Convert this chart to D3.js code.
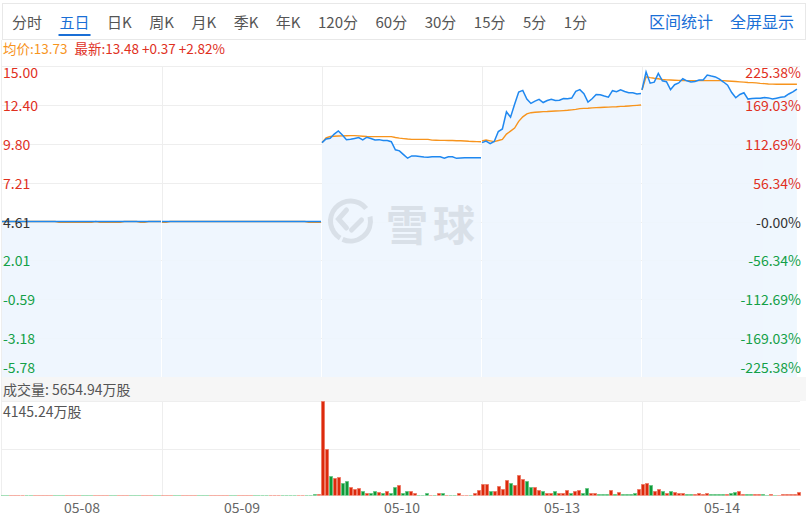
<!DOCTYPE html>
<html>
<head>
<meta charset="utf-8">
<script src="https://cdn.jsdelivr.net/npm/d3@7"></script>
<style>
  html, body { margin: 0; padding: 0; background: #fff; }
  svg { display: block; font-family: "Noto Sans CJK SC", "Noto Sans", sans-serif; }
</style>
</head>
<body>
<svg id="chart" width="808" height="523"></svg>
<script>
// ---------------- DATA ----------------
const tabs = ['分时','五日','日K','周K','月K','季K','年K','120分','60分','30分','15分','5分','1分'];
const tools = ['区间统计','全屏显示'];
const activeTab = '五日';
const days = ['05-08','05-09','05-10','05-13','05-14'];
const prevClose = 4.61;
const priceTicks = [15.00, 12.40, 9.80, 7.21, 4.61, 2.01, -0.59, -3.18, -5.78];
const pctTicks = ['225.38%','169.03%','112.69%','56.34%','-0.00%','-56.34%','-112.69%','-169.03%','-225.38%'];
const avgText = '均价:13.73';
const lastText = '最新:13.48 +0.37 +2.82%';
const volTotalText = '成交量: 5654.94万股';
const volMax = 4145.24;
const volMaxText = '4145.24万股';

// price per day (blue line)
const price0508 = [4.61,4.61,4.61,4.61,4.61,4.61,4.61,4.61,4.61,4.61,4.61,4.61,4.61,4.61,4.61,4.61,4.61,4.61,4.61,4.61,
                   4.61,4.61,4.61,4.61,4.61,4.61,4.61,4.61,4.61,4.61,4.61,4.61,4.61,4.61,4.61,4.61,4.61,4.61,4.61,4.61];
const price0509 = [4.61,4.61,4.61,4.61,4.61,4.61,4.61,4.61,4.61,4.61,4.61,4.61,4.61,4.61,4.61,4.61,4.61,4.61,4.61,4.61,
                   4.61,4.61,4.61,4.61,4.61,4.61,4.61,4.61,4.61,4.61,4.61,4.61,4.61,4.61,4.61,4.61,4.61,4.61,4.61,4.61];
const price0510 = [9.88,10.13,10.17,10.45,10.66,10.39,10.07,10.10,10.16,10.22,10.06,10.24,10.16,10.06,10.08,10.02,10.02,9.94,9.40,9.33,
                   9.08,8.84,8.99,8.99,8.96,8.92,8.90,8.93,8.94,8.93,8.84,8.94,8.94,8.83,8.86,8.87,8.87,8.87,8.87,8.87];
const price0513 = [9.88,9.98,9.81,9.96,10.62,10.79,11.94,11.58,12.45,13.26,13.37,12.79,12.50,12.65,12.77,12.56,12.69,12.77,12.69,12.71,
                   12.83,12.81,12.86,13.31,13.42,13.15,12.59,12.81,13.10,13.08,12.99,12.92,13.35,13.28,13.41,13.30,13.22,13.21,13.13,13.17];
const price0514 = [13.40,14.60,13.85,13.92,14.51,14.01,13.95,13.42,13.75,13.87,14.15,14.01,13.93,13.96,14.06,14.06,14.40,14.33,14.27,14.12,
                   13.93,13.72,13.23,12.88,13.10,13.21,12.79,12.83,12.84,12.84,12.89,12.87,12.79,12.85,12.91,12.95,13.13,13.27,13.46];

// average price per day (orange line)
const avg0508 = [4.61,4.61,4.61,4.61,4.61,4.61,4.61,4.61,4.61,4.61,4.61,4.61,4.61,4.61,4.56,4.56,4.56,4.56,4.56,4.56,
                 4.56,4.56,4.56,4.61,4.56,4.56,4.56,4.56,4.56,4.56,4.61,4.61,4.61,4.61,4.56,4.56,4.61,4.61,4.61,4.61];
const avg0509 = [4.56,4.56,4.61,4.61,4.61,4.61,4.61,4.61,4.61,4.61,4.61,4.61,4.61,4.61,4.61,4.61,4.61,4.61,4.61,4.61,
                 4.61,4.61,4.61,4.61,4.61,4.61,4.61,4.61,4.61,4.61,4.61,4.61,4.61,4.61,4.61,4.61,4.56,4.56,4.56,4.56];
const avg0510 = [9.88,10.20,10.29,10.31,10.32,10.33,10.34,10.35,10.35,10.33,10.31,10.29,10.28,10.28,10.28,10.28,10.28,10.28,10.22,10.18,
                 10.15,10.12,10.10,10.10,10.10,10.10,10.10,10.05,10.04,10.03,10.03,10.02,10.02,10.01,10.01,9.99,9.97,9.96,9.95,9.94];
const avg0513 = [9.99,10.05,10.00,9.95,10.02,10.10,10.45,10.65,10.85,11.30,11.60,11.80,11.88,11.91,11.93,11.95,11.96,11.98,11.99,12.00,
                 12.02,12.04,12.07,12.10,12.15,12.17,12.18,12.20,12.22,12.23,12.24,12.25,12.27,12.28,12.30,12.31,12.33,12.35,12.37,12.39];
const avg0514 = [13.40,14.28,14.22,14.18,14.15,14.10,14.07,14.06,14.05,14.04,14.03,14.02,14.02,14.02,14.02,14.02,14.02,14.02,14.02,14.02,
                 14.02,14.00,13.98,13.96,13.94,13.92,13.90,13.89,13.87,13.84,13.82,13.80,13.79,13.78,13.78,13.78,13.78,13.78,13.78];

// volume per bar (万股) and direction (r = up, g = down)
const vol0508 = [30,30,30,30,30,30,30,30,30,30,30,30,30,30,30,30,30,30,30,30,30,30,30,30,30,30,30,30,30,30,30,30,30,30,30,30,30,30,30,30];
const dir0508 = ['g','g','r','r','r','r','g','g','r','r','r','r','r','g','g','g','r','r','r','r','g','g','g','r','r','r','r','g','g','r','r','r','g','g','g','r','r','r','g','g'];
const vol0509 = [30,30,30,30,30,30,30,30,30,30,30,30,30,30,30,30,30,30,30,30,30,30,30,30,30,30,30,30,30,30,30,30,30,30,30,30,30,30,87,87];
const dir0509 = ['r','r','r','g','g','r','r','r','r','g','g','g','r','r','r','r','r','g','g','r','r','r','r','g','g','g','g','r','r','r','g','g','g','g','r','r','g','g','g','r'];
const vol0510 = [4145.24,2038,860,772,816,554,641,406,292,336,231,144,144,231,188,144,231,144,380,467,
                 118,231,231,118,57,57,144,57,57,118,118,57,57,57,144,57,57,57,118,275];
const dir0510 = ['r','r','g','r','r','g','g','r','r','r','g','r','g','g','r','g','r','g','g','r',
                 'g','g','r','r','g','g','g','r','g','r','g','r','g','g','r','r','r','g','r','r'];
const vol0513 = [510,510,205,205,423,292,685,554,467,903,729,641,380,380,249,205,144,144,205,118,
                 118,249,144,205,249,144,336,144,144,100,100,100,249,100,161,100,74,100,144,292];
const dir0513 = ['r','r','g','r','r','r','r','g','r','r','r','g','g','r','r','g','r','r','g','r',
                 'r','r','g','r','r','g','g','r','r','g','g','g','r','g','r','g','g','g','g','r'];
const vol0514 = [510,554,467,205,292,205,118,205,161,118,118,74,74,74,118,74,118,74,74,74,
                 74,74,118,161,205,74,74,74,74,74,74,30,74,30,30,74,74,74,74,161];
const dir0514 = ['r','r','g','r','r','g','r','g','r','r','r','g','g','r','r','r','r','g','g','g',
                 'g','r','g','g','r','r','g','g','r','r','g','g','r','g','r','r','r','r','r','r'];

const priceByDay = [price0508, price0509, price0510, price0513, price0514];
const avgByDay = [avg0508, avg0509, avg0510, avg0513, avg0514];
const volByDay = [vol0508, vol0509, vol0510, vol0513, vol0514];
const dirByDay = [dir0508, dir0509, dir0510, dir0513, dir0514];

// ---------------- STYLE / LAYOUT ----------------
const C = {
  red: '#e0301e', green: '#13a047', gray: '#333', tab: '#555', blue: '#1a6fd6',
  line: '#1f88f0', avg: '#f7941d', fill: '#eef6fe', grid: '#eeeeee',
  barRed: '#dd2a0c', barRedEdge: '#f08877', barGreen: '#0e9a3a', barGreenEdge: '#78cf93'
};
const W = 808, H = 523;
const plot = { left: 2, right: 802, top: 66, bottom: 377 };
const vol = { top: 401, bottom: 496 };

const svg = d3.select('#chart');
svg.append('rect').attr('width', W).attr('height', H).attr('fill', '#fff');

// ---- toolbar ----
svg.append('rect').attr('x', 2.5).attr('y', 3.5).attr('width', 803).attr('height', 36)
  .attr('fill', '#fff').attr('stroke', '#e8e8e8');
let tx = 12;
tabs.forEach(t => {
  const el = svg.append('text').attr('x', tx).attr('y', 21).attr('dominant-baseline', 'central')
    .attr('font-size', 15).attr('fill', t === activeTab ? C.blue : C.tab).text(t);
  const w = el.node().getComputedTextLength();
  if (t === activeTab) {
    svg.append('rect').attr('x', tx - 1).attr('y', 34).attr('width', w + 2).attr('height', 2).attr('fill', C.blue);
  }
  tx += w + 17.5;
});
let rx = 794;
tools.slice().reverse().forEach(t => {
  const el = svg.append('text').attr('x', rx).attr('y', 21).attr('dominant-baseline', 'central')
    .attr('text-anchor', 'end').attr('font-size', 16).attr('fill', C.blue).text(t);
  rx -= el.node().getComputedTextLength() + 17;
});

// ---- info line ----
const info = svg.append('text').attr('x', 3).attr('y', 48).attr('dominant-baseline', 'central').attr('font-size', 13.5);
info.append('tspan').attr('fill', C.avg).text(avgText);
info.append('tspan').attr('dx', 7).attr('fill', C.red).text(lastText);

// ---- scales ----
const y = d3.scaleLinear().domain([priceTicks[priceTicks.length - 1], priceTicks[0]]).range([plot.bottom, plot.top]);
const xDay = d3.scaleBand().domain(days).range([plot.left, plot.right]);
const xIn = d3.scaleLinear().domain([0, 39]).range([0, 159]);
const xBar = d3.scaleLinear().domain([0, 40]).range([0, 160]);
const yV = d3.scaleLinear().domain([0, volMax]).range([vol.bottom, vol.top]);

// ---- grid (price) ----
const grid = svg.append('g');
priceTicks.forEach(t => {
  const yy = Math.round(y(t)) + 0.5;
  grid.append('line').attr('x1', plot.left).attr('x2', 800).attr('y1', yy).attr('y2', yy).attr('stroke', C.grid);
});
days.slice(1).forEach(d => {
  const xx = Math.round(xDay(d)) + 0.5;
  grid.append('line').attr('x1', xx).attr('x2', xx).attr('y1', plot.top).attr('y2', plot.bottom).attr('stroke', C.grid);
});
svg.append('line').attr('x1', 1.5).attr('x2', 1.5).attr('y1', 40).attr('y2', vol.bottom).attr('stroke', '#eeeeee');

// ---- area fill ----
const areaG = svg.append('g').attr('opacity', 0.93);
days.forEach((d, i) => {
  const data = priceByDay[i];
  const area = d3.area().x((v, j) => xDay(d) + xIn(j)).y0(plot.bottom).y1(v => y(v));
  areaG.append('path').attr('d', area(data)).attr('fill', C.fill);
});

// ---- watermark ----
const wmCol = '#d9e0e8';
const wm = svg.append('g').attr('fill', 'none').attr('stroke', wmCol).attr('stroke-width', 5).attr('stroke-linecap', 'round');
const cx = 350.5, cy = 221, r = 20;
wm.append('path').attr('transform', `translate(${cx},${cy})`)
  .attr('d', d3.arc()({ innerRadius: r - 2.5, outerRadius: r + 2.5, startAngle: -2.6, endAngle: 0.9 }))
  .attr('fill', wmCol).attr('stroke', 'none');
wm.append('path').attr('transform', `translate(${cx},${cy})`)
  .attr('d', d3.arc()({ innerRadius: r - 2.5, outerRadius: r + 2.5, startAngle: 1.35, endAngle: 3.55 }))
  .attr('fill', wmCol).attr('stroke', 'none');
wm.append('path').attr('d', `M${cx - 4},${cy - 11} L${cx - 12},${cy - 2} L${cx - 4},${cy + 7}`);
wm.append('path').attr('d', `M${cx + 1},${cy + 9} L${cx + 11},${cy - 1}`);
svg.append('text').attr('x', 386).attr('y', 222).attr('dominant-baseline', 'central')
  .attr('font-size', 42).attr('font-weight', 700).attr('letter-spacing', 5).attr('fill', wmCol).text('雪球');

// ---- lines ----
days.forEach((d, i) => {
  const line = d3.line().x((v, j) => xDay(d) + xIn(j)).y(v => y(v));
  svg.append('path').attr('d', line(avgByDay[i])).attr('fill', 'none').attr('stroke', C.avg).attr('stroke-width', 1.4);
});
days.forEach((d, i) => {
  const line = d3.line().x((v, j) => xDay(d) + xIn(j)).y(v => y(v));
  svg.append('path').attr('d', line(priceByDay[i])).attr('fill', 'none').attr('stroke', C.line).attr('stroke-width', 1.5);
});

// ---- price labels ----
priceTicks.forEach((t, i) => {
  let yy = y(t);
  if (i === 0) yy += 6; else if (i === priceTicks.length - 1) yy -= 10;
  const col = t > prevClose + 1e-9 ? C.red : (t < prevClose - 1e-9 ? C.green : C.gray);
  svg.append('text').attr('x', 3).attr('y', yy).attr('dominant-baseline', 'central').attr('font-size', 14)
    .attr('fill', col).text(t.toFixed(2));
  svg.append('text').attr('x', 801).attr('y', yy).attr('dominant-baseline', 'central').attr('text-anchor', 'end')
    .attr('font-size', 14).attr('fill', col).text(pctTicks[i]);
});

// ---- volume band ----
svg.append('rect').attr('x', 2).attr('y', plot.bottom).attr('width', 804).attr('height', vol.top - plot.bottom).attr('fill', '#f6f6f6');
svg.append('text').attr('x', 3).attr('y', 388.5).attr('dominant-baseline', 'central').attr('font-size', 14)
  .attr('fill', '#555').text(volTotalText);

// volume grid
const vgrid = svg.append('g');
[vol.top, (vol.top + vol.bottom) / 2].forEach(v => {
  const yy = Math.round(v) + 0.5;
  vgrid.append('line').attr('x1', plot.left).attr('x2', 800).attr('y1', yy).attr('y2', yy).attr('stroke', C.grid);
});
days.slice(1).forEach(d => {
  const xx = Math.round(xDay(d)) + 0.5;
  vgrid.append('line').attr('x1', xx).attr('x2', xx).attr('y1', vol.top).attr('y2', vol.bottom).attr('stroke', C.grid);
});
svg.append('text').attr('x', 3).attr('y', 411).attr('dominant-baseline', 'central').attr('font-size', 14)
  .attr('fill', '#555').text(volMaxText);

// bars
const barG = svg.append('g');
days.forEach((d, i) => {
  volByDay[i].forEach((v, j) => {
    const top = Math.min(Math.round(yV(v)), vol.bottom - 1);
    const h = Math.max(0.05, vol.bottom - 0.6 - top - 0.3);
    const isUp = dirByDay[i][j] === 'r';
    barG.append('rect')
      .attr('x', Math.round(xDay(d) + xBar(j)) - 0.7)
      .attr('y', top + 0.3)
      .attr('width', 3.4).attr('height', h)
      .attr('fill', isUp ? C.barRed : C.barGreen)
      .attr('stroke', isUp ? C.barRedEdge : C.barGreenEdge).attr('stroke-width', 0.6);
  });
});

// ---- x labels ----
days.forEach(d => {
  svg.append('text').attr('x', xDay(d) + xDay.bandwidth() / 2).attr('y', 507).attr('dominant-baseline', 'central')
    .attr('text-anchor', 'middle').attr('font-size', 14).attr('fill', '#666').text(d);
});
</script>
</body>
</html>
